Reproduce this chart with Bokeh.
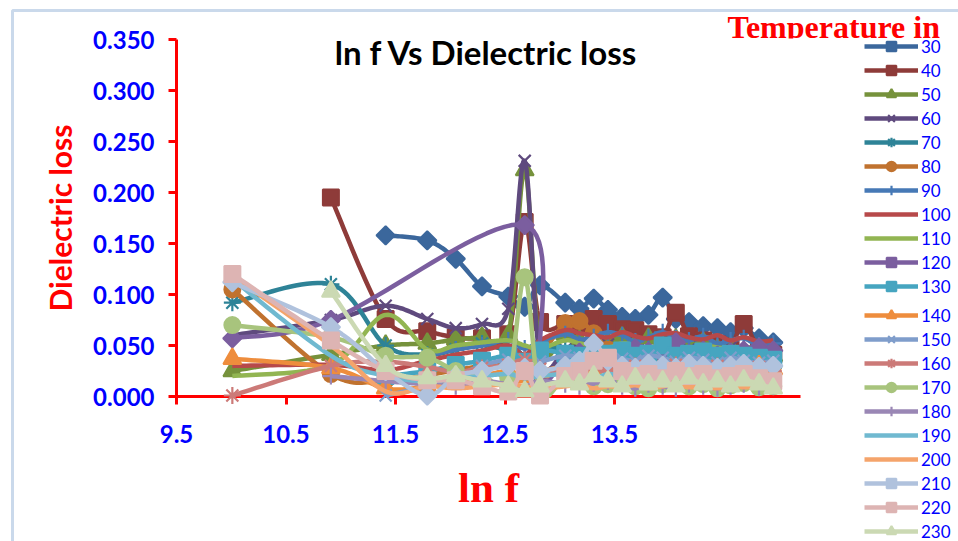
import numpy as np
from bokeh.plotting import figure
from bokeh.models import (Range1d, FixedTicker, NumeralTickFormatter, Legend,
                          LegendItem, Label, BoxAnnotation)
from bokeh.embed import file_html
from bokeh.resources import INLINE

# ln f values shared by all temperature series
ln_f = [10.01, 10.91, 11.41, 11.79, 12.05, 12.29, 12.53, 12.68, 12.82, 13.05,
        13.18, 13.31, 13.44, 13.57, 13.69, 13.81, 13.94, 14.06, 14.18, 14.31,
        14.44, 14.56, 14.68, 14.82, 14.95]

temperatures = [30, 40, 50, 60, 70, 80, 90, 100, 110, 120, 130,
                140, 150, 160, 170, 180, 190, 200, 210, 220, 230]

# dielectric loss per temperature (None = not measured at that frequency)
loss_30 = [None, None, 0.158, 0.153, 0.135, 0.108, 0.098, 0.088, 0.109, 0.092, 0.086, 0.096, 0.085, 0.078, 0.076, 0.080, 0.097, 0.076, 0.073, 0.069, 0.067, 0.063, 0.067, 0.057, 0.053]
loss_40 = [None, 0.195, 0.076, 0.064, 0.058, 0.057, 0.061, 0.171, 0.073, 0.071, 0.069, 0.076, 0.071, 0.066, 0.065, 0.061, 0.058, 0.082, 0.059, 0.055, 0.051, 0.049, 0.071, 0.046, 0.041]
loss_50 = [0.025, 0.041, 0.050, 0.052, 0.056, 0.058, 0.060, 0.222, 0.048, 0.061, 0.055, 0.049, 0.053, 0.058, 0.051, 0.057, 0.049, 0.056, 0.050, 0.053, 0.046, 0.048, 0.043, 0.046, 0.040]
loss_60 = [0.060, 0.075, 0.089, 0.076, 0.067, 0.071, 0.086, 0.231, 0.038, 0.046, 0.049, 0.044, 0.051, 0.046, 0.042, 0.045, 0.049, 0.043, 0.046, 0.045, 0.041, 0.048, 0.044, 0.047, 0.042]
loss_70 = [0.092, 0.110, 0.050, 0.041, 0.046, 0.052, 0.044, 0.040, 0.049, 0.045, 0.043, 0.040, 0.046, 0.042, 0.039, 0.044, 0.041, 0.043, 0.038, 0.041, 0.043, 0.038, 0.040, 0.036, 0.038]
loss_80 = [0.105, 0.022, 0.016, 0.021, 0.026, 0.030, 0.034, 0.031, 0.041, 0.072, 0.074, 0.062, 0.046, 0.040, 0.036, 0.033, 0.031, 0.035, 0.032, 0.030, 0.028, 0.033, 0.030, 0.027, 0.030]
loss_90 = [None, None, None, 0.040, 0.046, 0.050, 0.055, 0.047, 0.054, 0.061, 0.056, 0.058, 0.063, 0.060, 0.054, 0.058, 0.063, 0.057, 0.055, 0.059, 0.052, 0.055, 0.057, 0.050, 0.052]
loss_100 = [0.030, 0.031, 0.026, 0.035, 0.041, 0.045, 0.050, 0.041, 0.055, 0.065, 0.062, 0.060, 0.058, 0.063, 0.059, 0.057, 0.061, 0.062, 0.058, 0.056, 0.060, 0.055, 0.058, 0.054, 0.055]
loss_110 = [0.020, 0.031, 0.080, 0.046, 0.050, 0.053, 0.055, 0.050, 0.047, 0.055, 0.052, 0.050, 0.048, 0.052, 0.050, 0.047, 0.053, 0.050, 0.047, 0.050, 0.048, 0.046, 0.049, 0.045, 0.046]
loss_120 = [0.057, 0.075, None, None, None, None, None, 0.168, 0.021, 0.040, 0.043, 0.045, 0.040, 0.043, 0.047, 0.044, 0.041, 0.053, 0.042, 0.045, 0.040, 0.043, 0.045, 0.048, 0.045]
loss_130 = [None, None, 0.020, 0.025, 0.031, 0.035, 0.040, 0.034, 0.045, 0.042, 0.040, 0.038, 0.042, 0.045, 0.040, 0.042, 0.050, 0.040, 0.042, 0.044, 0.040, 0.042, 0.040, 0.038, 0.036]
loss_140 = [0.037, 0.028, 0.008, 0.010, 0.015, 0.020, 0.025, 0.019, 0.024, 0.030, 0.028, 0.025, 0.030, 0.027, 0.024, 0.030, 0.028, 0.025, 0.031, 0.028, 0.024, 0.028, 0.025, 0.030, 0.027]
loss_150 = [None, None, 0.001, 0.010, 0.020, 0.030, 0.036, 0.030, 0.034, 0.040, 0.038, 0.034, 0.040, 0.037, 0.035, 0.040, 0.038, 0.034, 0.038, 0.036, 0.033, 0.038, 0.035, 0.033, 0.035]
loss_160 = [0.001, 0.030, 0.034, 0.029, 0.024, 0.028, 0.031, 0.036, 0.027, 0.025, 0.029, 0.031, 0.024, 0.028, 0.030, 0.026, 0.028, 0.031, 0.025, 0.027, 0.030, 0.024, 0.028, 0.029, 0.025]
loss_170 = [0.070, 0.058, 0.040, 0.038, 0.025, 0.020, 0.018, 0.117, 0.004, 0.020, 0.015, 0.010, 0.012, 0.016, 0.010, 0.008, 0.012, 0.015, 0.010, 0.012, 0.008, 0.011, 0.013, 0.009, 0.010]
loss_180 = [None, 0.020, 0.015, 0.012, 0.010, 0.015, 0.012, 0.010, 0.015, 0.012, 0.010, 0.013, 0.015, 0.010, 0.008, 0.012, 0.010, 0.008, 0.012, 0.010, 0.008, 0.010, 0.012, 0.009, 0.010]
loss_190 = [0.115, 0.040, 0.020, 0.015, 0.018, 0.020, 0.022, 0.018, 0.020, 0.022, 0.020, 0.018, 0.022, 0.020, 0.018, 0.020, 0.022, 0.018, 0.020, 0.019, 0.021, 0.018, 0.020, 0.019, 0.020]
loss_200 = [0.118, 0.050, 0.005, 0.010, 0.008, 0.010, 0.012, 0.010, 0.008, 0.010, 0.012, 0.008, 0.010, 0.009, 0.011, 0.008, 0.010, 0.012, 0.009, 0.010, 0.008, 0.011, 0.009, 0.010, 0.008]
loss_210 = [0.112, 0.068, 0.025, 0.001, 0.020, 0.025, 0.030, 0.028, 0.025, 0.030, 0.035, 0.052, 0.035, 0.030, 0.028, 0.032, 0.030, 0.028, 0.032, 0.030, 0.028, 0.030, 0.032, 0.029, 0.030]
loss_220 = [0.120, 0.055, 0.025, 0.016, 0.016, 0.010, 0.005, 0.025, 0.001, 0.020, 0.025, 0.035, 0.038, 0.025, 0.020, 0.022, 0.018, 0.025, 0.020, 0.022, 0.018, 0.020, 0.022, 0.018, 0.015]
loss_230 = [None, 0.103, 0.030, 0.018, 0.020, 0.015, 0.010, 0.005, 0.010, 0.015, 0.012, 0.020, 0.015, 0.010, 0.018, 0.012, 0.015, 0.010, 0.018, 0.012, 0.015, 0.010, 0.016, 0.012, 0.008]

series = [loss_30, loss_40, loss_50, loss_60, loss_70, loss_80, loss_90,
          loss_100, loss_110, loss_120, loss_130, loss_140, loss_150,
          loss_160, loss_170, loss_180, loss_190, loss_200, loss_210,
          loss_220, loss_230]

y_ticks = [0.0, 0.05, 0.10, 0.15, 0.20, 0.25, 0.30, 0.35]
x_ticks = [9.5, 10.5, 11.5, 12.5, 13.5]
X_MIN, X_MAX = 9.5, 15.2
Y_MIN, Y_MAX = 0.0, 0.35

# styling per series
colors = ["#3B679C", "#8E3B39", "#76923C", "#5F4A7E", "#2E8397", "#C0722F",
          "#4679B6", "#B7494A", "#92B552", "#7B5E9F", "#46A5C0", "#EE8D3D",
          "#7F9DCB", "#CC7A78", "#A8C47D", "#9A87B5", "#70B9D0", "#F5A46B",
          "#B0C2DD", "#DDB4B3", "#CBD9B3"]
markers = ["diamond", "square", "triangle", "x", "asterisk", "circle", "cross",
           None, None, "diamond", "square", "triangle", "x", "asterisk",
           "circle", "cross", None, None, "diamond", "square", "triangle"]


def smooth_path(xs, ys, n=20):
    """Bezier smoothing through the points, like a spreadsheet 'smoothed line'."""
    pts = np.column_stack([xs, ys]).astype(float)
    if len(pts) < 3:
        return pts[:, 0], pts[:, 1]
    out = [pts[0]]
    t = np.linspace(0.0, 1.0, n + 1)[1:, None]
    for i in range(len(pts) - 1):
        p0 = pts[i - 1] if i > 0 else pts[i]
        p1 = pts[i]
        p2 = pts[i + 1]
        p3 = pts[i + 2] if i + 2 < len(pts) else pts[i + 1]
        c1 = p1 + (p2 - p0) / 6.0
        c2 = p2 - (p3 - p1) / 6.0
        seg = ((1 - t) ** 3) * p1 + 3 * ((1 - t) ** 2) * t * c1 \
            + 3 * (1 - t) * (t ** 2) * c2 + (t ** 3) * p2
        out.extend(seg)
    out = np.array(out)
    return out[:, 0], out[:, 1]


# page geometry: the plotting frame fills the page, the axes sit at fixed
# positions inside it so the legend and headings have room around the plot
W, H = 958, 541
AX_LEFT, AX_BOTTOM = 176, 396          # pixel position of the axis corner
PX_PER_X = 109.5                       # pixels per unit of ln f
PX_PER_Y = 1020.0                      # pixels per unit of loss
x_lo = X_MIN - AX_LEFT / PX_PER_X
x_hi = X_MIN + (W - AX_LEFT) / PX_PER_X
y_hi = Y_MIN + AX_BOTTOM / PX_PER_Y
y_lo = Y_MIN - (H - AX_BOTTOM) / PX_PER_Y

p = figure(width=W, height=H, output_backend="svg", toolbar_location=None,
           x_range=Range1d(x_lo, x_hi), y_range=Range1d(y_lo, y_hi),
           min_border_left=0, min_border_right=0,
           min_border_top=0, min_border_bottom=0)
p.outline_line_color = None
p.xgrid.visible = False
p.ygrid.visible = False
p.background_fill_color = "white"
p.border_fill_color = "white"

for ax in (p.xaxis[0], p.yaxis[0]):
    ax.level = "underlay"
    ax.axis_line_color = "#FF0000"
    ax.axis_line_width = 3
    ax.major_tick_line_color = "#FF0000"
    ax.major_tick_line_width = 3
    ax.major_tick_out = 8
    ax.major_tick_in = 0
    ax.minor_tick_line_color = None
    ax.major_label_text_font = "Lato"
    ax.major_label_text_font_style = "bold"
    ax.major_label_text_font_size = "24px"
    ax.major_label_text_color = "#0000FF"

p.yaxis.fixed_location = X_MIN
p.yaxis.bounds = (Y_MIN, Y_MAX)
p.yaxis.ticker = FixedTicker(ticks=y_ticks)
p.yaxis.formatter = NumeralTickFormatter(format="0.000")
p.yaxis.major_label_standoff = 14
p.yaxis.axis_label = "Dielectric loss"
p.yaxis.axis_label_text_font = "Lato"
p.yaxis.axis_label_text_font_style = "bold"
p.yaxis.axis_label_text_font_size = "30px"
p.yaxis.axis_label_text_color = "#FF0000"
p.yaxis.axis_label_standoff = 12

p.xaxis.fixed_location = Y_MIN
p.xaxis.bounds = (X_MIN, X_MAX)
p.xaxis.ticker = FixedTicker(ticks=x_ticks)
p.xaxis.major_label_standoff = 20
p.xaxis.axis_label = "ln f"
p.xaxis.axis_label_text_font = "Liberation Serif"
p.xaxis.axis_label_text_font_style = "bold"
p.xaxis.axis_label_text_font_size = "43px"
p.xaxis.axis_label_text_color = "#FF0000"
p.xaxis.axis_label_standoff = 18

items = []
for temp, vals, col, mk in zip(temperatures, series, colors, markers):
    xs = [x for x, v in zip(ln_f, vals) if v is not None]
    ys = [v for v in vals if v is not None]
    sx, sy = smooth_path(xs, ys)
    rends = [p.line(sx, sy, line_color=col, line_width=4.5, line_join="round")]
    if mk is not None:
        kw = dict(x=xs, y=ys, color=col, line_width=2)
        if mk == "diamond":
            kw.update(marker="square", size=13, angle=np.pi / 4)
        elif mk in ("x", "asterisk", "cross"):
            kw.update(marker=mk, size=17, line_width=2.2)
        elif mk == "triangle":
            kw.update(marker=mk, size=18)
        else:
            kw.update(marker=mk, size=16)
        rends.append(p.scatter(**kw))
    items.append(LegendItem(label=str(temp), renderers=rends))

# plot title inside the plotting area
p.add_layout(Label(x=12.33, y=0.338, text="ln f Vs Dielectric loss",
                   text_align="center", text_baseline="middle",
                   text_font="Lato", text_font_style="bold",
                   text_font_size="33px", text_color="#000000"))

# legend heading (its lower edge is hidden under a white strip)
p.add_layout(Label(x=727, y=H - 26, x_units="screen", y_units="screen",
                   text="Temperature in", text_align="left",
                   text_baseline="middle", text_font="Liberation Serif",
                   text_font_style="bold", text_font_size="32px",
                   text_color="#FF0000"))
p.add_layout(BoxAnnotation(left=720, right=862, top=H - 38, bottom=H - 48,
                           left_units="screen", right_units="screen",
                           top_units="screen", bottom_units="screen",
                           fill_color="white", fill_alpha=1.0,
                           line_color=None))

# legend in two stacked blocks so the rows keep the original pitch
ROW = 24
legend_style = dict(orientation="vertical", padding=0, margin=0, spacing=0,
                    glyph_width=54, glyph_height=ROW, label_height=ROW,
                    label_standoff=3, label_text_font="Lato",
                    label_text_font_size="17px", label_text_color="#0000FF",
                    border_line_alpha=0, background_fill_alpha=0)
upper, lower = items[:11], items[11:]
p.add_layout(Legend(items=upper, location=(864, H - 34 - len(upper) * ROW),
                    **legend_style))
p.add_layout(Legend(items=lower, location=(864, H - 303 - len(lower) * ROW),
                    **legend_style))

# chart-area border: top and left edges
p.add_layout(BoxAnnotation(left=12, right=5000, top=H - 10, bottom=-5000,
                           left_units="screen", right_units="screen",
                           top_units="screen", bottom_units="screen",
                           fill_alpha=0, line_color="#4F81BD", line_width=3))

open("out.html", "w").write(file_html(p, INLINE))
